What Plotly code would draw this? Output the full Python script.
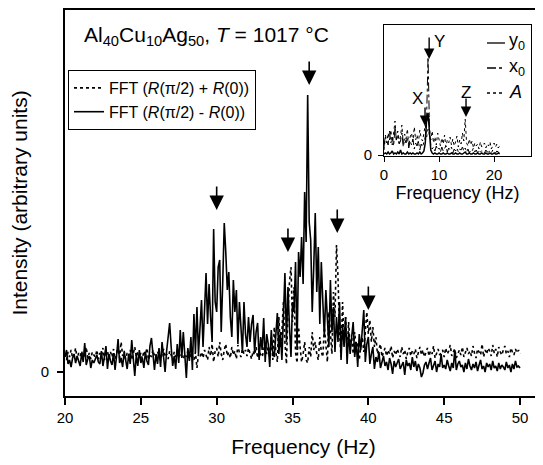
import plotly.graph_objects as go

# ---------------- main spectrum data (0.1 Hz steps, 20-50 Hz) ----------------
freq_main = [round(20 + 0.1 * i, 1) for i in range(301)]

fft_minus = [  # FFT (R(pi/2) - R(0)) solid
    15, 22, 8, 12, 5, 14, 18, 9, 16, 11,
    6, 19, 10, 29, 7, 13, 16, 4, 12, 9,
    14, 17, 10, 8, 21, 6, 15, 26, 3, 18,
    11, 7, 19, 2, 16, 33, 9, 14, 5, 20,
    12, 3, 18, 8, 32, 10, -4, 17, 6, 22,
    9, 14, 4, 20, 11, 7, 26, 34, 13, 2,
    18, 8, 24, 5, 30, 12, 0, 21, 38, 49,
    25, 6, 16, 3, 28, 9, 42, 14, 40, 18,
    -6, 24, 11, 35, 2, 58, 20, 65, 18, 44,
    72, 25, 60, 99, 48, 88, 55, 30, 143, 70,
    60, 105, 112, 40, 90, 149, 120, 82, 100, 55,
    35, 92, 60, 82, 28, 70, 45, 19, 70, 38,
    25, 55, 30, 48, 57, 20, 40, 49, 12, 35,
    22, 54, 10, 38, 28, 5, 42, 20, 15, 33,
    59, 18, 40, 12, 65, 99, 30, 85, 45, 15,
    70, 60, 110, 22, 120, 95, 135, 88, 180, 130,
    277, 150, 132, 60, 105, 159, 80, 125, 48, 110,
    70, 35, 82, 58, 25, 92, 40, 65, 20, 55,
    30, 70, 12, 48, 25, 55, 8, 40, 18, 35,
    50, 15, 30, 5, 38, 22, 44, 62, 10, 28,
    35, 8, 18, 25, 3, 15, 10, 20, 4, 12,
    16, 6, 10, 2, 14, 8, -2, 11, 5, 9,
    13, 3, 7, 10, -3, 12, 6, 9, 2, 15,
    5, 11, 1, 8, 4, -5, -1, 7, 10, 3,
    9, 14, 2, 6, 11, 0, 8, 5, 18, 4,
    7, 3, 12, 6, 1, 9, 4, 22, 2, 8,
    11, 5, 7, 0, 9, 3, 13, 6, 2, 8,
    4, 10, 1, 7, 12, 3, 6, 0, 9, 5,
    8, 2, 11, 4, 6, 1, 9, 3, 7, 5,
    2, 10, 4, 7, 0, 8, 3, 11, 5, 6,
    4,
]

fft_plus = [  # FFT (R(pi/2) + R(0)) dotted
    18, 12, 20, 15, 22, 14, 17, 24, 13, 19,
    16, 21, 12, 18, 25, 14, 19, 13, 20, 17,
    15, 22, 13, 19, 16, 24, 12, 18, 21, 14,
    20, 15, 23, 13, 18, 26, 14, 30, 16, 21,
    13, 19, 16, 22, 12, 18, 25, 15, 20, 14,
    19, 13, 21, 17, 24, 12, 18, 15, 22, 16,
    14, 20, 17, 12, 19, 23, 15, 18, 13, 21,
    17, 12, 20, 15, 22, 14, 19, 16, 13, 18,
    15, 21, 13, 19, 16, 12, 20, 4, 18, 15,
    20, 14, 22, 17, 12, 25, 16, 28, 10, 21,
    24, 15, 30, 18, 12, 22, 28, 16, 20, 14,
    25, 17, 21, 13, 27, 19, 15, 23, 18, 22,
    16, 24, 19, 13, 21, 17, 25, 14, 20, 18,
    15, 22, 30, 18, 26, 14, 35, 12, 45, 20,
    10, 55, 25, 40, 70, 30, 8, 60, 90, 105,
    50, 85, 20, 9, 45, 25, 10, 18, 30, 12,
    9, 25, 15, 40, 22, 30, 18, 12, 35, 20,
    15, 45, 28, 10, 60, 35, 18, 80, 55, 127,
    95, 40, 15, 70, 30, 55, 20, 50, 25, 35,
    18, 40, 22, 30, 12, 25, 35, 20, 45, 60,
    38, 52, 30, 45, 25, 35, 18, 22, 28, 15,
    20, 24, 16, 22, 18, 26, 14, 21, 17, 23,
    19, 15, 25, 18, 22, 13, 20, 24, 16, 21,
    18, 23, 14, 20, 25, 17, 22, 15, 19, 24,
    16, 21, 18, 26, 14, 20, 23, 17, 19, 22,
    15, 24, 18, 21, 27, 16, 20, 23, 14, 19,
    22, 17, 25, 15, 20, 24, 18, 21, 16, 26,
    19, 14, 23, 20, 17, 28, 15, 22, 18, 24,
    21, 16, 27, 19, 23, 15, 25, 20, 17, 22,
    26, 18, 21, 15, 24, 20, 17, 23, 19, 22,
    18,
]

# main-plot arrows: (frequency, tail value, tip value)
main_arrow_freq = [30.0, 36.1, 34.7, 37.95, 40.0]
main_arrow_tail = [187, 312, 145, 164, 87]
main_arrow_tip = [162, 287, 120, 139, 62]

# ---------------- inset data (0.25 Hz steps, 0-21 Hz) ----------------
freq_inset = [0.25 * i for i in range(85)]

inset_A = [
    5, 18, 12, 22, 15, 25, 10, 20, 34, 14, 24, 12, 19, 30, 11, 21,
    16, 26, 9, 18, 22, 13, 28, 15, 20, 12, 25, 17, 14, 22, 30, 18,
    26, 20, 15, 24, 12, 18, 10, 22, 14, 9, 17, 11, 20, 8, 15, 12,
    18, 10, 16, 9, 13, 19, 8, 15, 11, 22, 14, 36, 12, 9, 16, 10,
    14, 7, 12, 9, 11, 6, 13, 8, 10, 12, 7, 11, 9, 13, 6, 10,
    12, 8, 11, 7, 9,
]
inset_x0 = [
    8, 20, 14, 10, 24, 12, 18, 9, 28, 15, 20, 11, 14, 22, 8, 16,
    12, 18, 7, 14, 10, 16, 6, 12, 9, 14, 5, 11, 8, 12, 18, 40,
    98, 30, 10, 6, 8, 4, 9, 5, 7, 3, 8, 4, 6, 9, 3, 7,
    5, 8, 2, 6, 4, 7, 3, 6, 5, 8, 4, 7, 3, 6, 2, 5,
    4, 7, 3, 5, 2, 5, 3, 4, 4, 2, 5, 3, 3, 4, 2, 5,
    3, 2, 4, 3, 2,
]
inset_y0 = [
    1, 2, 1, 3, 1, 2, 4, 1, 2, 1, 3, 1, 5, 1, 2, 1,
    1, 3, 1, 2, 1, 2, 1, 1, 2, 1, 3, 1, 2, 4, 12, 36,
    42, 20, 5, 2, 1, 2, 1, 1, 2, 1, 1, 2, 1, 1, 2, 1,
    1, 2, 1, 1, 2, 1, 1, 2, 1, 1, 2, 3, 1, 1, 2, 1,
    1, 2, 1, 1, 2, 1, 1, 2, 1, 1, 2, 1, 1, 2, 1, 1,
    2, 1, 1, 2, 1,
]

inset_arrow_label = ["X", "Y", "Z"]
inset_arrow_freq = [7.45, 8.2, 14.9]
inset_arrow_tail = [49, 119, 58]
inset_arrow_tip = [29, 96, 38]

inset_legend_names = ["y<sub>0</sub>", "x<sub>0</sub>", "<i>A</i>"]
inset_legend_dash = ["solid", "dashdot", "dot"]

FONT = "Liberation Sans, Arial, sans-serif"
OFF = 8               # page body margin
W, H = 543 - OFF, 465 - OFF


def px_x(p):
    return (p - OFF) / W


def px_y(p):
    return 1 - (p - OFF) / H


fig = go.Figure()

fig.add_trace(go.Scatter(
    x=freq_main, y=fft_plus, mode="lines",
    line=dict(color="black", width=1.6, dash="dot"),
    name="FFT (<i>R</i>(π/2) + <i>R</i>(0))",
    xaxis="x", yaxis="y"))
fig.add_trace(go.Scatter(
    x=freq_main, y=fft_minus, mode="lines",
    line=dict(color="black", width=1.6),
    name="FFT (<i>R</i>(π/2) - <i>R</i>(0))",
    xaxis="x", yaxis="y"))

fig.add_trace(go.Scatter(
    x=freq_inset, y=inset_A, mode="lines",
    line=dict(color="black", width=1, dash="dot"),
    name="A", xaxis="x2", yaxis="y2", showlegend=False))
fig.add_trace(go.Scatter(
    x=freq_inset, y=inset_x0, mode="lines",
    line=dict(color="black", width=1, dash="dashdot"),
    name="x0", xaxis="x2", yaxis="y2", showlegend=False))
fig.add_trace(go.Scatter(
    x=freq_inset, y=inset_y0, mode="lines",
    line=dict(color="black", width=1.5),
    name="y0", xaxis="x2", yaxis="y2", showlegend=False))

annotations = []
for f, t0, t1 in zip(main_arrow_freq, main_arrow_tail, main_arrow_tip):
    annotations.append(dict(
        x=f, y=t1, ax=f, ay=t0, xref="x", yref="y", axref="x", ayref="y",
        showarrow=True, arrowhead=2, arrowsize=1.8, arrowwidth=1.6,
        arrowcolor="black", text=""))
for f, t0, t1 in zip(inset_arrow_freq, inset_arrow_tail, inset_arrow_tip):
    annotations.append(dict(
        x=f, y=t1, ax=f, ay=t0, xref="x2", yref="y2", axref="x2", ayref="y2",
        showarrow=True, arrowhead=2, arrowsize=1.5, arrowwidth=1.4,
        arrowcolor="black", text=""))

label_pos = {"X": (417, 98), "Y": (439, 42), "Z": (466, 92)}
for lab in inset_arrow_label:
    lx, ly = label_pos[lab]
    annotations.append(dict(
        x=px_x(lx), y=px_y(ly), xref="paper", yref="paper",
        xanchor="center", yanchor="middle", text=lab, showarrow=False,
        font=dict(size=17, family=FONT, color="black")))

# inset legend (manual)
shapes = []
for i, (nm, ds) in enumerate(zip(inset_legend_names, inset_legend_dash)):
    yy = 43 + 25 * i
    shapes.append(dict(type="line", xref="paper", yref="paper",
                       x0=px_x(487), x1=px_x(505), y0=px_y(yy), y1=px_y(yy),
                       line=dict(color="black", width=1.3, dash=ds)))
    annotations.append(dict(
        x=px_x(507), y=px_y(yy - 1), xref="paper", yref="paper",
        xanchor="left", yanchor="middle", text=nm, showarrow=False,
        font=dict(size=18, family=FONT, color="black")))

# title text
annotations.append(dict(
    x=px_x(82), y=px_y(36), xref="paper", yref="paper",
    xanchor="left", yanchor="middle",
    text="Al<sub>40</sub>Cu<sub>10</sub>Ag<sub>50</sub>, <i>T</i> = 1017 °C",
    showarrow=False, font=dict(size=21, family=FONT, color="black")))

fig.update_layout(
    width=W, height=H,
    margin=dict(l=0, r=0, t=0, b=0, autoexpand=False),
    paper_bgcolor="white", plot_bgcolor="white",
    font=dict(family=FONT, color="black", size=15),
    xaxis=dict(
        domain=[px_x(65), px_x(542)], range=[20, 51.45],
        tickvals=[20, 25, 30, 35, 40, 45, 50], ticks="outside", ticklen=7,
        tickwidth=1.5, tickcolor="black", showline=True, linewidth=2,
        linecolor="black", mirror=True, showgrid=False, zeroline=False,
        tickfont=dict(size=15), anchor="y",
        title=dict(text="Frequency (Hz)", font=dict(size=21), standoff=14)),
    yaxis=dict(
        domain=[px_y(396), px_y(10)], range=[-24, 362],
        tickvals=[0], ticktext=["0"], ticks="outside", ticklen=6,
        tickwidth=1.5, tickcolor="black", showline=True, linewidth=2,
        linecolor="black", mirror=True, showgrid=False, zeroline=False,
        tickfont=dict(size=15), anchor="x", ticklabelstandoff=5,
        title=dict(text="Intensity (arbitrary units)", font=dict(size=21), standoff=10)),
    xaxis2=dict(
        domain=[px_x(384), px_x(531)], range=[0, 26.7],
        tickvals=[0, 10, 20], ticks="outside", ticklen=5, tickwidth=1,
        tickcolor="black", showline=True, linewidth=1, linecolor="black",
        mirror=True, showgrid=False, zeroline=False, anchor="y2",
        tickfont=dict(size=15),
        title=dict(text="Frequency (Hz)", font=dict(size=18), standoff=4)),
    yaxis2=dict(
        domain=[px_y(156), px_y(25)], range=[-1, 130],
        tickvals=[0], ticks="outside", ticklen=5, tickwidth=1,
        tickcolor="black", showline=True, linewidth=1, linecolor="black",
        mirror=True, showgrid=False, zeroline=False, anchor="x2",
        ticklabelstandoff=3, tickfont=dict(size=15)),
    legend=dict(
        x=px_x(68), y=px_y(70), xanchor="left", yanchor="top",
        bgcolor="white", bordercolor="black", borderwidth=1,
        font=dict(size=16, family=FONT), itemwidth=30,
        tracegroupgap=0, traceorder="normal"),
    annotations=annotations,
    shapes=shapes,
    showlegend=True,
)

fig.write_html("out.html")
